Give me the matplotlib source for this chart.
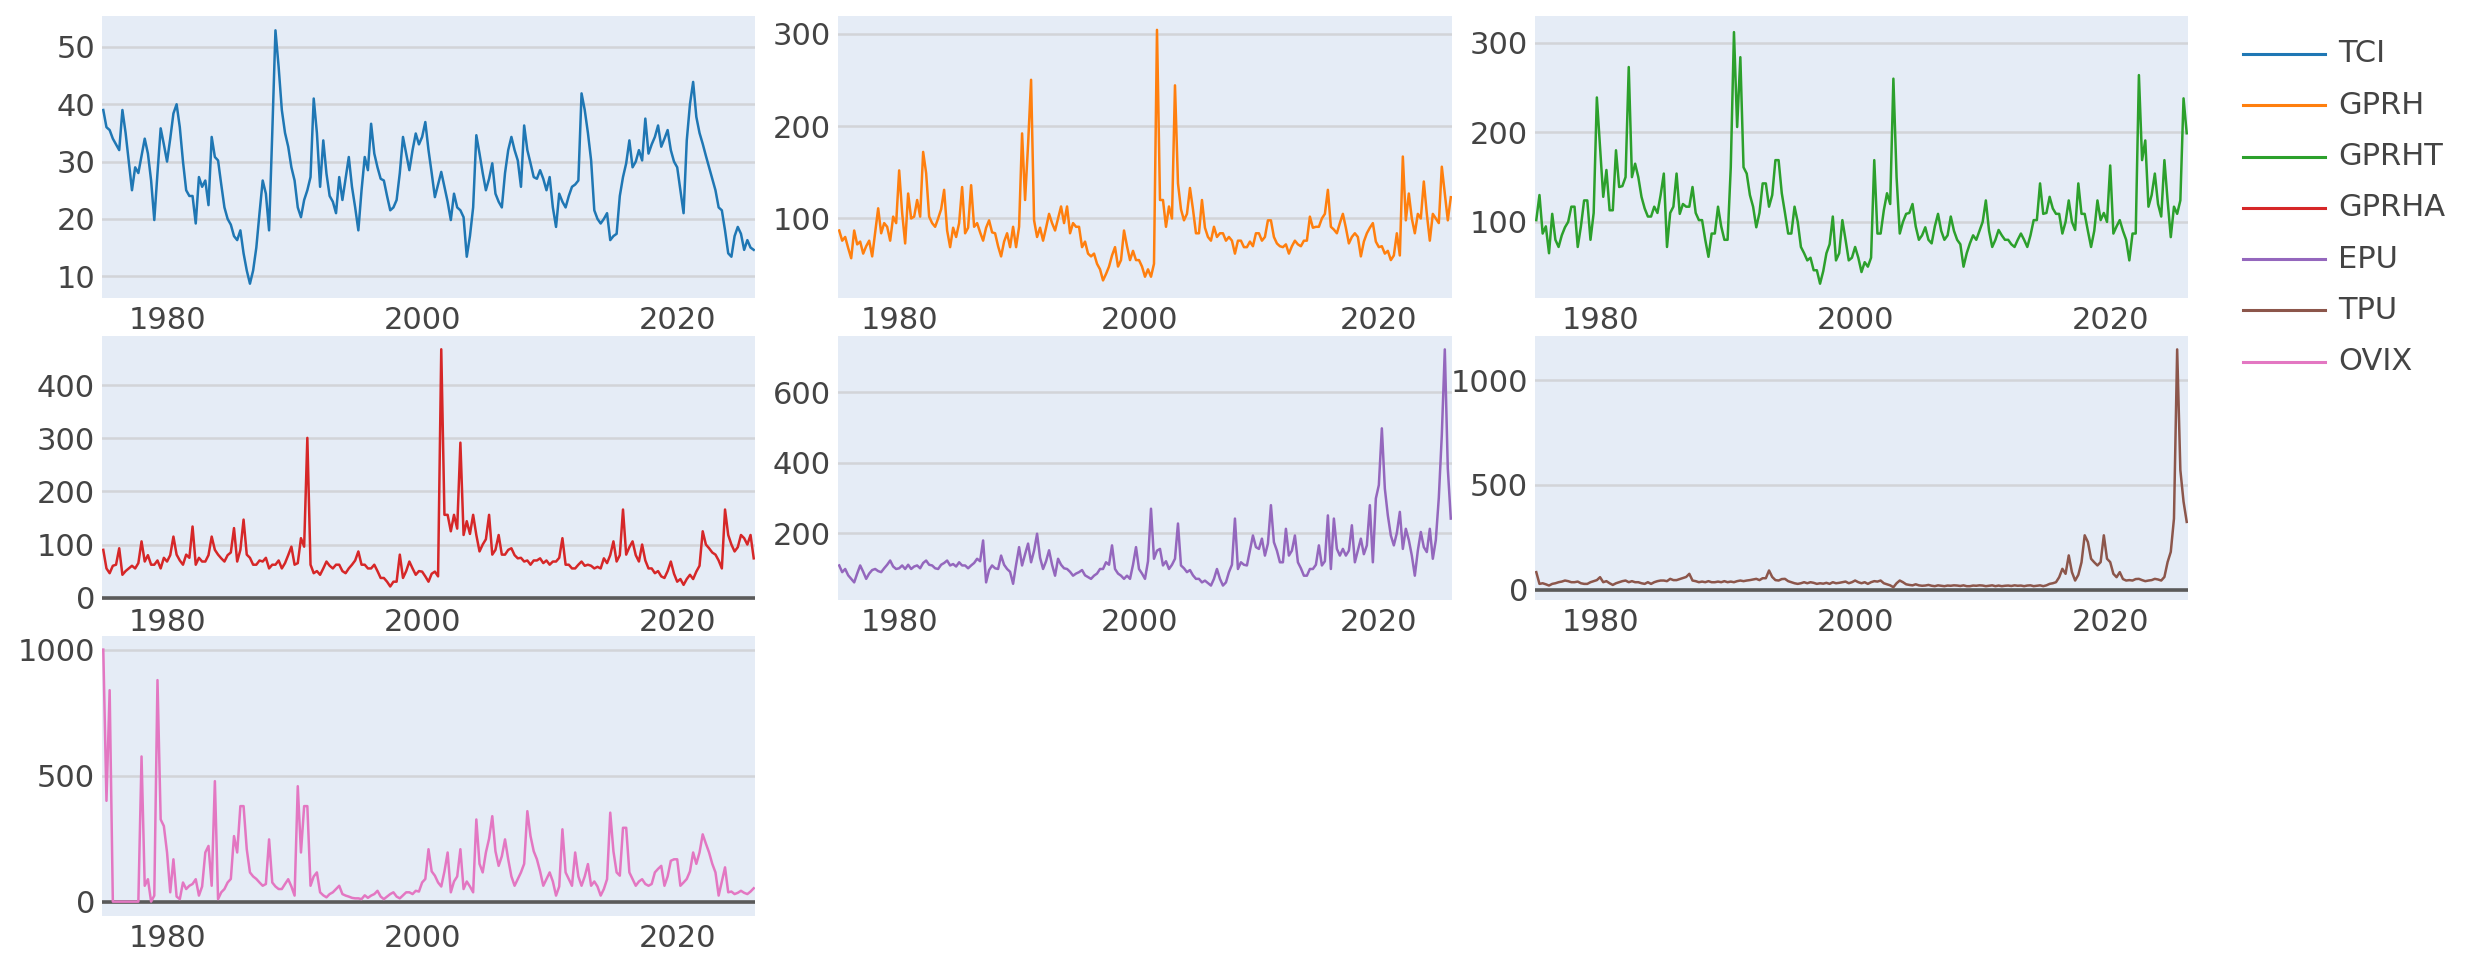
import numpy as np
import matplotlib
matplotlib.use("Agg")
import matplotlib.pyplot as plt
from matplotlib.lines import Line2D

plt.rcParams['font.family'] = ['DejaVu Sans']

# ---------------- data (quarterly readings, 1975Q1 .. 2026Q1) ----------------
names = ["TCI", "GPRH", "GPRHT", "GPRHA", "EPU", "TPU", "OVIX"]
colors = ["#1f77b4", "#ff7f0e", "#2ca02c", "#d62728", "#9467bd", "#8c564b", "#e377c2"]
start_year = 1975
step = 0.25

tci = [
    39, 36, 35.5, 34,   33, 32, 39, 35,   30, 25, 29, 28,   31, 34, 31.4, 26.7,
    19.8, 28, 35.8, 33,   30, 34, 38.4, 40,   36, 30, 25, 24,   24, 19.2, 27.3, 25.6,
    26.7, 22.4, 34.3, 30.8,   30.2, 26, 22, 20,   19, 17, 16.3, 18,   14, 11, 8.7, 11,
    15, 21, 26.7, 24.4,   18, 35, 52.9, 46.5,   39, 35, 32.6, 29,   26.7, 22, 20.3, 23.3,
    25, 27.3, 41, 35,   25.6, 33.7, 27.9, 24,   23, 21, 27.3, 23.3,   27, 30.8, 25.6, 22,
    18, 25, 30.8, 28.5,   36.6, 31.4, 29, 27,   26.7, 24, 21.5, 22,   23.3, 28, 34.3, 31.4,
    28.5, 32, 34.9, 33,   34.3, 36.9, 32, 28,   23.8, 26, 28.2, 25.6,   23, 19.8, 24.4, 22,
    21.5, 20.3, 13.4, 17,   22, 34.6, 31.4, 28,   25, 27, 29.7, 24.4,   23, 22, 28, 32,
    34.3, 32, 30.2, 25.6,   36.3, 32, 29.7, 27.3,   27, 28.5, 27, 25,   27.3, 22, 18.6, 24.4,
    23, 22, 24, 25.6,   26, 26.7, 41.9, 39,   35, 30.2, 21.5, 20,   19.2, 20, 21, 16.3,
    17, 17.4, 24, 27.3,   29.7, 33.7, 29, 30,   32, 30.2, 37.5, 31.4,   33, 34.3, 36.3, 32.6,
    34, 35.5, 32, 30,   29, 25, 21, 33.7,   40, 43.9, 37.8, 35,   33.1, 31, 29, 27,
    25, 22, 21.5, 18,   14, 13.4, 17, 18.6,   17.4, 14.6, 16.3, 15,   14.6,
]

gprh = [
    87, 76, 80, 68,   57, 87, 72, 75,   62, 70, 76, 59,   85, 111, 84, 95,
    91, 76, 102, 95,   152, 106, 73, 127,   100, 102, 120, 102,   172, 149, 102, 95,
    91, 100, 110, 131,   87, 69, 90, 80,   95, 134, 84, 90,   136, 91, 95, 85,
    76, 90, 98, 85,   84, 70, 59, 75,   84, 69, 91, 69,   91, 192, 120, 180,
    250, 98, 80, 90,   76, 90, 105, 95,   87, 100, 113, 95,   113, 84, 95, 91,
    91, 69, 75, 62,   59, 62, 51, 45,   33, 40, 48, 60,   69, 48, 55, 87,
    70, 55, 65, 55,   55, 48, 37, 45,   37, 51, 304, 120,   120, 91, 113, 100,
    244, 138, 110, 98,   105, 133, 110, 84,   84, 120, 90, 80,   76, 91, 80, 84,
    84, 76, 80, 76,   62, 76, 76, 69,   69, 75, 70, 84,   84, 76, 80, 98,
    98, 80, 73, 70,   69, 72, 62, 70,   76, 72, 70, 76,   76, 102, 90, 91,
    91, 100, 105, 131,   91, 88, 84, 95,   105, 90, 73, 80,   84, 80, 59, 75,
    84, 90, 95, 75,   69, 70, 62, 65,   55, 60, 84, 60,   167, 98, 127, 100,
    84, 105, 100, 140,   105, 76, 105, 100,   95, 156, 127, 98,   123,
]

gprht = [
    102, 130, 87, 95,   65, 109, 80, 72,   85, 94, 100, 117,   117, 72, 95, 124,
    124, 80, 110, 239,   184, 128, 158, 113,   113, 180, 139, 140,   150, 273, 150, 165,
    150, 128, 115, 106,   106, 117, 110, 130,   154, 72, 110, 117,   154, 109, 120, 117,
    117, 139, 110, 102,   102, 80, 61, 87,   87, 117, 95, 80,   80, 161, 312, 206,
    284, 161, 154, 130,   117, 94, 110, 143,   143, 117, 130, 169,   169, 132, 110, 87,
    87, 117, 100, 72,   65, 57, 60, 46,   46, 31, 45, 65,   75, 106, 57, 65,
    102, 80, 57, 60,   72, 60, 44, 55,   50, 60, 169, 87,   87, 113, 132, 120,
    260, 150, 87, 100,   109, 110, 120, 95,   80, 85, 94, 80,   76, 95, 109, 90,
    80, 85, 106, 90,   80, 75, 50, 65,   76, 85, 80, 90,   100, 124, 90, 72,
    80, 91, 85, 80,   80, 75, 72, 80,   87, 80, 72, 85,   102, 102, 143, 109,
    110, 128, 115, 109,   109, 87, 100, 124,   100, 91, 143, 109,   109, 90, 72, 90,
    124, 102, 110, 100,   163, 87, 95, 102,   90, 80, 57, 87,   87, 264, 169, 191,
    117, 130, 154, 120,   106, 169, 124, 83,   117, 109, 124, 238,   199,
]

gprha = [
    90, 55, 46, 60,   62, 93, 43, 50,   55, 60, 55, 65,   106, 68, 80, 62,
    62, 70, 55, 75,   68, 80, 115, 81,   70, 62, 81, 75,   134, 62, 75, 68,
    68, 80, 115, 90,   81, 74, 68, 80,   85, 131, 68, 90,   147, 81, 75, 62,
    62, 70, 68, 75,   55, 62, 62, 70,   55, 65, 80, 96,   62, 65, 112, 96,
    301, 62, 46, 50,   43, 55, 68, 60,   55, 62, 62, 50,   46, 55, 62, 70,
    87, 62, 62, 55,   55, 62, 50, 37,   37, 30, 21, 30,   30, 81, 37, 50,
    68, 55, 43, 50,   49, 40, 30, 45,   49, 40, 468, 156,   156, 125, 156, 130,
    292, 118, 144, 120,   156, 118, 87, 100,   110, 156, 81, 90,   118, 81, 81, 90,
    93, 80, 74, 75,   68, 70, 62, 70,   70, 74, 65, 70,   62, 68, 68, 75,
    112, 62, 62, 55,   55, 62, 68, 60,   62, 60, 55, 58,   55, 74, 65, 80,
    106, 68, 80, 166,   81, 95, 106, 80,   68, 100, 70, 55,   55, 46, 50, 40,
    37, 50, 68, 45,   30, 35, 24, 35,   43, 35, 49, 60,   125, 100, 93, 85,
    81, 70, 55, 166,   118, 100, 87, 95,   118, 112, 100, 118,   74,
]

epu = [
    108, 89, 98, 80,   70, 60, 85, 108,   90, 70, 85, 95,   98, 92, 89, 100,
    110, 122, 105, 98,   100, 108, 98, 110,   98, 105, 108, 100,   115, 122, 110, 108,
    100, 98, 110, 115,   122, 108, 112, 105,   117, 108, 108, 100,   108, 115, 127, 120,
    179, 60, 95, 108,   100, 98, 136, 110,   98, 90, 56, 110,   160, 108, 140, 170,
    117, 150, 198, 130,   98, 120, 151, 110,   79, 127, 110, 100,   98, 90, 79, 85,
    89, 95, 80, 75,   70, 79, 85, 98,   98, 117, 110, 165,   98, 85, 79, 70,
    79, 70, 110, 160,   98, 85, 70, 120,   269, 127, 150, 155,   108, 120, 98, 110,
    127, 227, 108, 100,   89, 95, 80, 70,   70, 60, 65, 58,   51, 70, 98, 70,
    51, 60, 89, 110,   241, 98, 117, 110,   108, 150, 193, 160,   155, 184, 136, 170,
    279, 174, 150, 117,   117, 212, 136, 150,   193, 117, 100, 79,   79, 98, 98, 110,
    165, 108, 120, 250,   98, 241, 155, 136,   155, 136, 150, 222,   117, 150, 184, 140,
    165, 279, 117, 298,   336, 497, 326, 250,   193, 165, 200, 260,   155, 212, 180, 136,
    79, 150, 203, 160,   146, 212, 127, 180,   300, 478, 721, 383,   241,
]

tpu = [
    83, 27, 30, 25,   19, 27, 30, 35,   38, 43, 40, 35,   35, 38, 30, 27,
    27, 35, 40, 45,   59, 35, 40, 30,   22, 30, 35, 40,   43, 35, 40, 35,
    35, 30, 27, 35,   27, 35, 40, 43,   43, 40, 51, 45,   45, 50, 55, 60,
    75, 43, 40, 35,   38, 35, 40, 35,   35, 38, 35, 40,   35, 38, 35, 40,
    43, 40, 43, 45,   48, 51, 45, 54,   54, 91, 60, 45,   43, 50, 51, 40,
    35, 30, 27, 30,   35, 30, 35, 32,   27, 30, 28, 32,   27, 35, 30, 32,
    35, 38, 30, 35,   43, 35, 30, 35,   27, 35, 40, 38,   43, 30, 25, 20,
    11, 30, 43, 35,   25, 22, 20, 25,   20, 18, 19, 22,   18, 16, 20, 18,
    16, 19, 18, 20,   19, 17, 20, 16,   16, 19, 18, 20,   19, 16, 18, 20,
    16, 19, 16, 18,   19, 17, 20, 18,   19, 16, 19, 20,   16, 18, 20, 16,
    20, 27, 30, 35,   59, 99, 75, 163,   83, 43, 70, 130,   259, 227, 147, 130,
    115, 131, 259, 147,   131, 75, 59, 83,   50, 43, 45, 43,   50, 51, 45, 40,
    43, 45, 51, 48,   43, 60, 131, 180,   339, 1147, 571, 420,   323,
]

ovix = [
    1000, 400, 839, 0,   0, 0, 0, 0,   0, 0, 0, 0,   576, 63, 89, 0,
    24, 879, 326, 300,   195, 37, 168, 20,   10, 76, 50, 63,   70, 89, 24, 60,
    195, 221, 63, 478,   10, 37, 50, 76,   90, 260, 195, 379,   379, 208, 116, 100,
    90, 76, 63, 70,   247, 76, 60, 50,   50, 70, 89, 60,   24, 458, 195, 379,
    379, 63, 100, 116,   37, 25, 17, 30,   37, 50, 63, 30,   24, 20, 15, 13,
    13, 10, 25, 15,   24, 30, 43, 20,   10, 20, 30, 37,   20, 13, 25, 37,
    37, 30, 43, 40,   76, 90, 208, 120,   103, 76, 60, 120,   195, 37, 80, 100,
    208, 50, 80, 60,   37, 326, 150, 116,   195, 250, 339, 200,   142, 180, 247, 168,
    100, 63, 90, 116,   150, 359, 260, 200,   168, 120, 63, 90,   116, 80, 24, 60,
    287, 116, 90, 63,   195, 100, 63, 100,   149, 63, 80, 60,   24, 50, 89, 353,
    200, 116, 103, 293,   293, 116, 90, 63,   80, 89, 70, 63,   70, 116, 130, 142,
    63, 100, 162, 168,   168, 63, 76, 90,   120, 195, 150, 195,   267, 230, 195, 150,
    116, 24, 80, 136,   37, 40, 30, 35,   43, 35, 30, 40,   53,
]

series = [tci, gprh, gprht, gprha, epu, tpu, ovix]
xtick_labels = [1980, 2000, 2020]
yticks = [
    [10, 20, 30, 40, 50],
    [100, 200, 300],
    [100, 200, 300],
    [0, 100, 200, 300, 400],
    [200, 400, 600],
    [0, 500, 1000],
    [0, 500, 1000],
]

# ---------------- layout / style ----------------
W, H = 2470, 972
boxes = [
    (102, 16, 755, 298), (838, 16, 1452, 298), (1535, 16, 2188, 298),
    (102, 336, 755, 600), (838, 336, 1452, 600), (1535, 336, 2188, 600),
    (102, 636, 755, 916),
]
ylims = [(6.2, 55.4), (14, 319), (15, 330), (-4.5, 493), (10, 759), (-50, 1211), (-57, 1054)]
xlim = (1974.9, 2026.1)
BG = "#E5ECF6"
GRID = "#D2D4D8"
TXT = "#444444"
FS = 22

fig = plt.figure(figsize=(W / 100, H / 100), dpi=100)
fig.patch.set_facecolor("white")

for vals, col, box, yl, yt in zip(series, colors, boxes, ylims, yticks):
    x0, y0, x1, y1 = box
    ax = fig.add_axes([x0 / W, 1 - y1 / H, (x1 - x0) / W, (y1 - y0) / H])
    ax.set_facecolor(BG)
    x = start_year + np.arange(len(vals)) * step
    ax.plot(x, vals, color=col, lw=1.8, zorder=3, solid_joinstyle="round")
    ax.set_xlim(*xlim)
    ax.set_ylim(*yl)
    ax.set_xticks(xtick_labels)
    ax.set_yticks(yt)
    ax.tick_params(axis="both", length=0, labelsize=FS, colors=TXT)
    ax.tick_params(axis="x", pad=6)
    ax.tick_params(axis="y", pad=5)
    for s in ax.spines.values():
        s.set_visible(False)
    ax.set_axisbelow(True)
    ax.grid(axis="y", color=GRID, lw=1.8, zorder=0)
    ax.grid(axis="x", visible=False)
    if 0 in yt:
        ax.axhline(0, color="#5a5a5a", lw=2.6, zorder=2)

# legend
for i, (n, c) in enumerate(zip(names, colors)):
    yy = 1 - (54 + 51.3 * i) / H
    fig.add_artist(Line2D([2243 / W, 2325 / W], [yy, yy], color=c, lw=2.2,
                          transform=fig.transFigure))
    fig.text(2338 / W, yy, n, va="center", ha="left", fontsize=FS, color=TXT)

fig.savefig("out.png", dpi=100, facecolor="white")
